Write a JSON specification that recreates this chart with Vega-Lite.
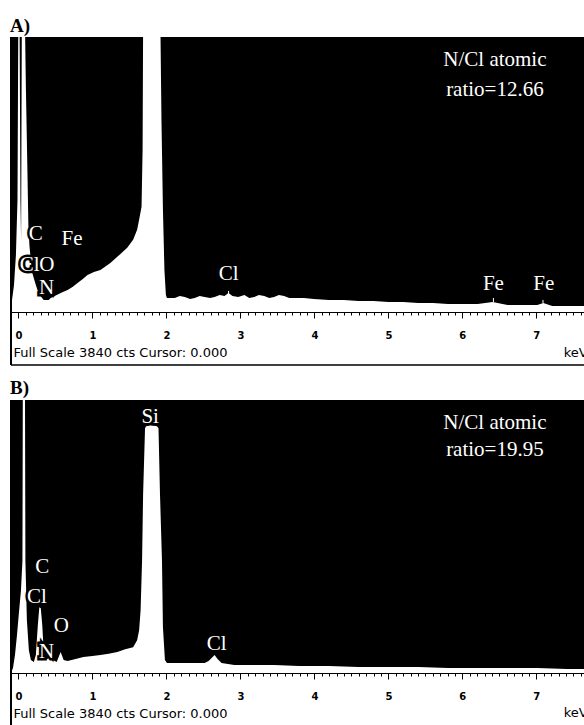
{
  "$schema": "https://vega.github.io/schema/vega-lite/v6.json",
  "background": "white",
  "padding": {"left": 10, "top": 17, "right": 0, "bottom": 0},
  "spacing": 13,
  "config": {"view": {"stroke": null}},
  "datasets": {
    "specA": [
      {"E": -0.101, "cts": 0}, {"E": -0.087, "cts": 168}, {"E": -0.060, "cts": 378}, {"E": -0.034, "cts": 798},
      {"E": -0.013, "cts": 1568}, {"E": 0.000, "cts": 4500}, {"E": 0.013, "cts": 4500}, {"E": 0.027, "cts": 1568},
      {"E": 0.036, "cts": 1008}, {"E": 0.047, "cts": 4500}, {"E": 0.081, "cts": 4500}, {"E": 0.101, "cts": 3108},
      {"E": 0.121, "cts": 1988}, {"E": 0.134, "cts": 1218}, {"E": 0.148, "cts": 938}, {"E": 0.168, "cts": 700},
      {"E": 0.195, "cts": 518}, {"E": 0.235, "cts": 378}, {"E": 0.275, "cts": 252}, {"E": 0.342, "cts": 168},
      {"E": 0.409, "cts": 168}, {"E": 0.436, "cts": 196}, {"E": 0.544, "cts": 252}, {"E": 0.600, "cts": 280},
      {"E": 0.664, "cts": 308}, {"E": 0.730, "cts": 350}, {"E": 0.799, "cts": 406}, {"E": 0.870, "cts": 460},
      {"E": 0.933, "cts": 518}, {"E": 1.020, "cts": 560}, {"E": 1.107, "cts": 588}, {"E": 1.180, "cts": 640},
      {"E": 1.242, "cts": 686}, {"E": 1.336, "cts": 770}, {"E": 1.400, "cts": 830}, {"E": 1.470, "cts": 896},
      {"E": 1.550, "cts": 1008}, {"E": 1.604, "cts": 1148}, {"E": 1.631, "cts": 1288}, {"E": 1.664, "cts": 1470},
      {"E": 1.678, "cts": 2268}, {"E": 1.687, "cts": 4500}, {"E": 1.913, "cts": 4500}, {"E": 1.933, "cts": 2688},
      {"E": 1.953, "cts": 1428}, {"E": 1.973, "cts": 588}, {"E": 1.993, "cts": 238}, {"E": 2.007, "cts": 196},
      {"E": 2.114, "cts": 196}, {"E": 2.180, "cts": 224}, {"E": 2.248, "cts": 210}, {"E": 2.320, "cts": 182},
      {"E": 2.383, "cts": 196}, {"E": 2.450, "cts": 224}, {"E": 2.517, "cts": 210}, {"E": 2.590, "cts": 196},
      {"E": 2.651, "cts": 210}, {"E": 2.720, "cts": 238}, {"E": 2.785, "cts": 224}, {"E": 2.839, "cts": 266},
      {"E": 2.893, "cts": 224}, {"E": 2.970, "cts": 210}, {"E": 3.054, "cts": 238}, {"E": 3.120, "cts": 196},
      {"E": 3.188, "cts": 210}, {"E": 3.250, "cts": 238}, {"E": 3.322, "cts": 224}, {"E": 3.390, "cts": 196},
      {"E": 3.456, "cts": 210}, {"E": 3.520, "cts": 238}, {"E": 3.591, "cts": 224}, {"E": 3.660, "cts": 196},
      {"E": 3.725, "cts": 196}, {"E": 3.859, "cts": 196}, {"E": 3.993, "cts": 182}, {"E": 4.195, "cts": 168},
      {"E": 4.396, "cts": 168}, {"E": 4.597, "cts": 154}, {"E": 4.799, "cts": 154}, {"E": 5.000, "cts": 140},
      {"E": 5.201, "cts": 140}, {"E": 5.403, "cts": 126}, {"E": 5.604, "cts": 126}, {"E": 5.805, "cts": 112},
      {"E": 6.007, "cts": 112}, {"E": 6.208, "cts": 112}, {"E": 6.409, "cts": 140}, {"E": 6.611, "cts": 98},
      {"E": 6.812, "cts": 98}, {"E": 7.013, "cts": 98}, {"E": 7.094, "cts": 126}, {"E": 7.215, "cts": 84},
      {"E": 7.416, "cts": 84}, {"E": 7.660, "cts": 84}
    ],
    "specB": [
      {"E": -0.101, "cts": 0}, {"E": -0.074, "cts": 70}, {"E": -0.047, "cts": 252}, {"E": -0.020, "cts": 532},
      {"E": 0.007, "cts": 854}, {"E": 0.034, "cts": 1162}, {"E": 0.054, "cts": 1582}, {"E": 0.060, "cts": 4500},
      {"E": 0.087, "cts": 4500}, {"E": 0.094, "cts": 1582}, {"E": 0.114, "cts": 742}, {"E": 0.141, "cts": 322},
      {"E": 0.168, "cts": 182}, {"E": 0.208, "cts": 154}, {"E": 0.235, "cts": 252}, {"E": 0.262, "cts": 672},
      {"E": 0.282, "cts": 924}, {"E": 0.302, "cts": 910}, {"E": 0.322, "cts": 672}, {"E": 0.342, "cts": 294},
      {"E": 0.369, "cts": 182}, {"E": 0.409, "cts": 210}, {"E": 0.436, "cts": 252}, {"E": 0.463, "cts": 182},
      {"E": 0.517, "cts": 154}, {"E": 0.570, "cts": 294}, {"E": 0.611, "cts": 182}, {"E": 0.664, "cts": 168},
      {"E": 0.772, "cts": 196}, {"E": 0.879, "cts": 224}, {"E": 1.000, "cts": 238}, {"E": 1.107, "cts": 252},
      {"E": 1.220, "cts": 270}, {"E": 1.336, "cts": 294}, {"E": 1.443, "cts": 336}, {"E": 1.550, "cts": 364},
      {"E": 1.604, "cts": 462}, {"E": 1.631, "cts": 602}, {"E": 1.651, "cts": 882}, {"E": 1.671, "cts": 1582},
      {"E": 1.685, "cts": 2520}, {"E": 1.711, "cts": 3444}, {"E": 1.725, "cts": 3472}, {"E": 1.799, "cts": 3486},
      {"E": 1.872, "cts": 3472}, {"E": 1.893, "cts": 3444}, {"E": 1.913, "cts": 2520}, {"E": 1.940, "cts": 1582},
      {"E": 1.953, "cts": 644}, {"E": 1.980, "cts": 182}, {"E": 2.007, "cts": 140}, {"E": 2.181, "cts": 140},
      {"E": 2.383, "cts": 140}, {"E": 2.517, "cts": 140}, {"E": 2.570, "cts": 168}, {"E": 2.611, "cts": 210},
      {"E": 2.651, "cts": 252}, {"E": 2.691, "cts": 196}, {"E": 2.745, "cts": 140}, {"E": 2.919, "cts": 112},
      {"E": 3.188, "cts": 112}, {"E": 3.456, "cts": 112}, {"E": 3.792, "cts": 98}, {"E": 4.195, "cts": 98},
      {"E": 4.597, "cts": 84}, {"E": 5.000, "cts": 84}, {"E": 5.403, "cts": 84}, {"E": 5.805, "cts": 70},
      {"E": 6.208, "cts": 70}, {"E": 6.611, "cts": 70}, {"E": 7.013, "cts": 70}, {"E": 7.416, "cts": 56},
      {"E": 7.660, "cts": 56}
    ],
    "labA": [
      {"E": 0.235, "cts": 1008, "text": "C"}, {"E": 0.725, "cts": 938, "text": "Fe"},
      {"E": 0.150, "cts": 574, "text": "Cl"}, {"E": 0.385, "cts": 574, "text": "O"},
      {"E": 0.38, "cts": 252, "text": "N"}, {"E": 2.84, "cts": 448, "text": "Cl"},
      {"E": 6.42, "cts": 308, "text": "Fe"}, {"E": 7.10, "cts": 308, "text": "Fe"}
    ],
    "ratioA": [
      {"E": 6.44, "cts": 3430, "text": "N/Cl atomic"}, {"E": 6.44, "cts": 3010, "text": "ratio=12.66"}
    ],
    "labB": [
      {"E": 1.78, "cts": 3514, "text": "Si"}, {"E": 0.32, "cts": 1400, "text": "C"},
      {"E": 0.25, "cts": 980, "text": "Cl"}, {"E": 0.58, "cts": 574, "text": "O"},
      {"E": 0.38, "cts": 210, "text": "N"}, {"E": 2.68, "cts": 322, "text": "Cl"}
    ],
    "ratioB": [
      {"E": 6.44, "cts": 3430, "text": "N/Cl atomic"}, {"E": 6.44, "cts": 3052, "text": "ratio=19.95"}
    ],
    "markA": [
      {"E": 2.84, "cts": 294, "cts2": 238}, {"E": 6.42, "cts": 196, "cts2": 140}, {"E": 7.09, "cts": 168, "cts2": 126}
    ],
    "unitA": [{"E": 7.37, "cts": -628, "text": "keV"}],
    "unitB": [{"E": 7.37, "cts": -619, "text": "keV"}],
    "bgA": [{"E": -0.1007, "E2": 7.6577, "cts": 0, "cts2": 3840}],
    "leftA": [{"E": -0.1007, "cts": -740, "cts2": 3840}],
    "bottomA": [{"E": -0.1007, "E2": 7.6577, "cts": -740}],
    "leftB": [{"E": -0.1007, "cts": -731, "cts2": 3840}]
  },
  "vconcat": [
    {
      "title": {"text": "A)", "anchor": "start", "font": "Liberation Serif", "fontSize": 19, "fontWeight": "bold", "color": "black", "offset": 0},
      "width": 574,
      "height": 328,
      "encoding": {
        "x": {"field": "E", "type": "quantitative", "scale": {"domain": [-0.1007, 7.6577], "nice": false, "zero": false},
          "axis": {
            "values": [0,0.1,0.2,0.3,0.4,0.5,0.6,0.7,0.8,0.9,1,1.1,1.2,1.3,1.4,1.5,1.6,1.7,1.8,1.9,2,2.1,2.2,2.3,2.4,2.5,2.6,2.7,2.8,2.9,3,3.1,3.2,3.3,3.4,3.5,3.6,3.7,3.8,3.9,4,4.1,4.2,4.3,4.4,4.5,4.6,4.7,4.8,4.9,5,5.1,5.2,5.3,5.4,5.5,5.6,5.7,5.8,5.9,6,6.1,6.2,6.3,6.4,6.5,6.6,6.7,6.8,6.9,7,7.1,7.2,7.3,7.4,7.5,7.6],
            "offset": -53, "grid": false,
            "domainColor": "black", "domainWidth": 1,
            "tickColor": "black", "tickWidth": 1,
            "tickSize": {"condition": {"test": "abs(datum.value - round(datum.value)) < 0.001", "value": 6}, "value": 3},
            "labelExpr": "abs(datum.value - round(datum.value)) < 0.001 ? format(datum.value, 'd') : ''",
            "labelFont": "DejaVu Sans", "labelFontSize": 10, "labelFontWeight": "bold", "labelColor": "black",
            "labelPadding": 12, "labelOverlap": false, "labelFlush": false,
            "title": "Full Scale 3840 cts Cursor: 0.000", "titleFont": "DejaVu Sans", "titleFontSize": 13, "titleFontWeight": "normal",
            "titleColor": "black", "titleAlign": "left", "titleX": 2, "titleY": 44, "titleBaseline": "alphabetic"
          }
        },
        "y": {"field": "cts", "type": "quantitative", "scale": {"domain": [-740, 3840], "nice": false, "zero": false}, "axis": null}
      },
      "layer": [
        {
          "data": {"name": "bgA"},
          "mark": {"type": "rect", "color": "black"},
          "encoding": {"x2": {"field": "E2"}, "y2": {"field": "cts2"}}
        },
        {
          "data": {"name": "specA"},
          "mark": {"type": "area", "color": "white", "clip": true}
        },
        {
          "data": {"name": "markA"},
          "mark": {"type": "rule", "color": "white", "strokeWidth": 1},
          "encoding": {"y2": {"field": "cts2"}}
        },
        {
          "data": {"name": "labA"},
          "mark": {"type": "text", "color": "black", "stroke": "black", "strokeWidth": 5, "font": "Liberation Serif", "fontSize": 21, "align": "center", "baseline": "alphabetic"},
          "encoding": {"text": {"field": "text"}}
        },
        {
          "data": {"name": "labA"},
          "mark": {"type": "text", "color": "white", "font": "Liberation Serif", "fontSize": 21, "align": "center", "baseline": "alphabetic"},
          "encoding": {"text": {"field": "text"}}
        },
        {
          "data": {"name": "ratioA"},
          "mark": {"type": "text", "color": "white", "font": "Liberation Serif", "fontSize": 21, "align": "center", "baseline": "alphabetic"},
          "encoding": {"text": {"field": "text"}}
        },
        {
          "data": {"name": "unitA"},
          "mark": {"type": "text", "color": "black", "font": "DejaVu Sans", "fontSize": 13, "align": "left", "baseline": "alphabetic"},
          "encoding": {"text": {"field": "text"}}
        },
        {
          "data": {"name": "leftA"},
          "mark": {"type": "rule", "color": "black", "strokeWidth": 2},
          "encoding": {"y2": {"field": "cts2"}}
        },
        {
          "data": {"name": "bottomA"},
          "mark": {"type": "rule", "color": "black", "strokeWidth": 1.5},
          "encoding": {"x2": {"field": "E2"}}
        }
      ]
    },
    {
      "title": {"text": "B)", "anchor": "start", "font": "Liberation Serif", "fontSize": 19, "fontWeight": "bold", "color": "black", "offset": 1},
      "width": 574,
      "height": 325,
      "encoding": {
        "x": {"field": "E", "type": "quantitative", "scale": {"domain": [-0.1007, 7.6577], "nice": false, "zero": false},
          "axis": {
            "values": [0,0.1,0.2,0.3,0.4,0.5,0.6,0.7,0.8,0.9,1,1.1,1.2,1.3,1.4,1.5,1.6,1.7,1.8,1.9,2,2.1,2.2,2.3,2.4,2.5,2.6,2.7,2.8,2.9,3,3.1,3.2,3.3,3.4,3.5,3.6,3.7,3.8,3.9,4,4.1,4.2,4.3,4.4,4.5,4.6,4.7,4.8,4.9,5,5.1,5.2,5.3,5.4,5.5,5.6,5.7,5.8,5.9,6,6.1,6.2,6.3,6.4,6.5,6.6,6.7,6.8,6.9,7,7.1,7.2,7.3,7.4,7.5,7.6],
            "offset": -52, "grid": false,
            "domainColor": "black", "domainWidth": 1,
            "tickColor": "black", "tickWidth": 1,
            "tickSize": {"condition": {"test": "abs(datum.value - round(datum.value)) < 0.001", "value": 6}, "value": 3},
            "labelExpr": "abs(datum.value - round(datum.value)) < 0.001 ? format(datum.value, 'd') : ''",
            "labelFont": "DejaVu Sans", "labelFontSize": 10, "labelFontWeight": "bold", "labelColor": "black",
            "labelPadding": 12, "labelOverlap": false, "labelFlush": false,
            "title": "Full Scale 3840 cts Cursor: 0.000", "titleFont": "DejaVu Sans", "titleFontSize": 13, "titleFontWeight": "normal",
            "titleColor": "black", "titleAlign": "left", "titleX": 2, "titleY": 44, "titleBaseline": "alphabetic"
          }
        },
        "y": {"field": "cts", "type": "quantitative", "scale": {"domain": [-731, 3840], "nice": false, "zero": false}, "axis": null}
      },
      "layer": [
        {
          "data": {"name": "bgA"},
          "mark": {"type": "rect", "color": "black"},
          "encoding": {"x2": {"field": "E2"}, "y2": {"field": "cts2"}}
        },
        {
          "data": {"name": "specB"},
          "mark": {"type": "area", "color": "white", "clip": true}
        },
        {
          "data": {"name": "labB"},
          "mark": {"type": "text", "color": "black", "stroke": "black", "strokeWidth": 5, "font": "Liberation Serif", "fontSize": 21, "align": "center", "baseline": "alphabetic"},
          "encoding": {"text": {"field": "text"}}
        },
        {
          "data": {"name": "labB"},
          "mark": {"type": "text", "color": "white", "font": "Liberation Serif", "fontSize": 21, "align": "center", "baseline": "alphabetic"},
          "encoding": {"text": {"field": "text"}}
        },
        {
          "data": {"name": "ratioB"},
          "mark": {"type": "text", "color": "white", "font": "Liberation Serif", "fontSize": 21, "align": "center", "baseline": "alphabetic"},
          "encoding": {"text": {"field": "text"}}
        },
        {
          "data": {"name": "unitB"},
          "mark": {"type": "text", "color": "black", "font": "DejaVu Sans", "fontSize": 13, "align": "left", "baseline": "alphabetic"},
          "encoding": {"text": {"field": "text"}}
        },
        {
          "data": {"name": "leftB"},
          "mark": {"type": "rule", "color": "black", "strokeWidth": 2},
          "encoding": {"y2": {"field": "cts2"}}
        }
      ]
    }
  ]
}
